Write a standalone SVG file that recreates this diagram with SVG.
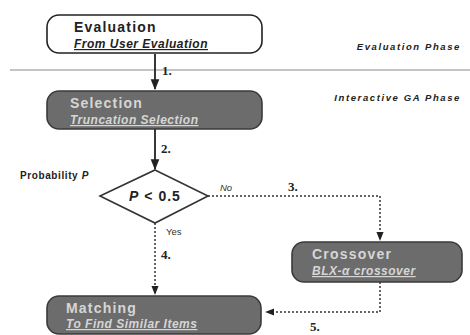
<svg xmlns="http://www.w3.org/2000/svg" width="470" height="335" viewBox="0 0 470 335">
  <style>
    .title { font-family: "Liberation Sans", Arial, sans-serif; font-size: 14px; font-weight: bold; letter-spacing: 1.2px; }
    .sub { font-family: "Liberation Sans", Arial, sans-serif; font-size: 12px; font-weight: bold; font-style: italic; text-decoration: underline; letter-spacing: 0.5px; }
    .dark .box { fill: #6c6c6c; stroke: #3a3a3a; stroke-width: 1.6; }
    .dark text { fill: #d6d6d6; }
    .light .box { fill: #ffffff; stroke: #222; stroke-width: 1.6; }
    .light text { fill: #222; }
    .phase { font-family: "Liberation Sans", Arial, sans-serif; font-size: 9.5px; font-weight: bold; font-style: italic; letter-spacing: 1.6px; fill: #222; }
    .num { font-family: "Liberation Serif", "Times New Roman", serif; font-size: 13px; font-weight: bold; fill: #222; }
    .lbl { font-family: "Liberation Sans", Arial, sans-serif; font-size: 9.5px; fill: #333; }
    .solid { stroke: #222; stroke-width: 1.8; fill: none; }
    .dot { stroke: #333; stroke-width: 1.5; fill: none; stroke-dasharray: 2 2; }
  </style>
  <defs>
    <marker id="arr" viewBox="0 0 10 10" refX="9" refY="5" markerWidth="6" markerHeight="6" orient="auto-start-reverse">
      <path d="M0,1 L10,5 L0,9 z" fill="#222"/>
    </marker>
  </defs>
  <rect width="470" height="335" fill="#ffffff"/>

  <!-- phase separator -->
  <line x1="10" y1="70" x2="470" y2="70" stroke="#c4c4c4" stroke-width="2"/>
  <text class="phase" x="461" y="50" text-anchor="end">Evaluation Phase</text>
  <text class="phase" x="461" y="101" text-anchor="end">Interactive GA Phase</text>

  <g id="connectors">
    <line class="solid" x1="155" y1="54" x2="155" y2="89" marker-end="url(#arr)"/>
    <line class="solid" x1="155" y1="129" x2="155" y2="169" marker-end="url(#arr)"/>
    <polyline class="dot" points="208,196 380,196 380,240" marker-end="url(#arr)"/>
    <line class="dot" x1="155" y1="223" x2="155" y2="294" marker-end="url(#arr)"/>
    <polyline class="dot" points="380,282 380,312 266,312" marker-end="url(#arr)"/>
    <text class="num" x="162" y="75">1.</text>
    <text class="num" x="161" y="153">2.</text>
    <text class="num" x="288" y="191">3.</text>
    <text class="num" x="161" y="259">4.</text>
    <text class="num" x="310" y="331">5.</text>
    <text class="lbl" x="220" y="191" font-style="italic">No</text>
    <text class="lbl" x="166" y="235" font-size="8.5">Yes</text>
  </g>

  <g id="evaluation" class="light">
    <rect class="box" x="47" y="15" width="215" height="38" rx="12"/>
    <text class="title" x="74" y="32">Evaluation</text>
    <text class="sub" x="74" y="48">From User Evaluation</text>
  </g>

  <g id="selection" class="dark">
    <rect class="box" x="47" y="91" width="215" height="38" rx="12"/>
    <text class="title" x="70" y="108">Selection</text>
    <text class="sub" x="70" y="124">Truncation Selection</text>
  </g>

  <g id="decision">
    <polygon points="155,170 208,196 155,223 100,196" fill="#ffffff" stroke="#333" stroke-width="1.6"/>
    <text x="155" y="201" text-anchor="middle" font-family="Liberation Sans, Arial, sans-serif" font-size="14" font-weight="bold" letter-spacing="1" fill="#222"><tspan font-style="italic">P</tspan> &lt; 0.5</text>
    <text x="20" y="179" font-family="Liberation Sans, Arial, sans-serif" font-size="10" font-weight="bold" letter-spacing="0.6" fill="#222">Probability <tspan font-style="italic">P</tspan></text>
  </g>

  <g id="crossover" class="dark">
    <rect class="box" x="292" y="242" width="170" height="40" rx="12"/>
    <text class="title" x="312" y="259">Crossover</text>
    <text class="sub" x="312" y="275">BLX-α crossover</text>
  </g>

  <g id="matching" class="dark">
    <rect class="box" x="47" y="296" width="214" height="38" rx="12"/>
    <text class="title" x="66" y="313">Matching</text>
    <text class="sub" x="66" y="328">To Find Similar Items</text>
  </g>
</svg>
